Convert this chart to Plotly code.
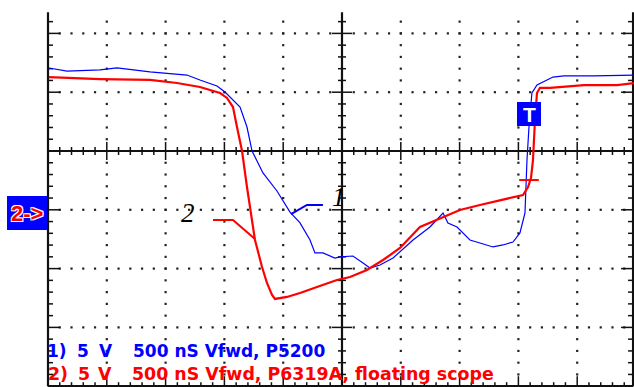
import plotly.graph_objects as go
import numpy as np

# ---------------- data (time in ns, voltage in V) ----------------
NS_PER_DIV = 500
V_PER_DIV = 5

blue_t = [8, 162, 442, 587, 867, 1182, 1292, 1437, 1505, 1573, 1633, 1692, 1735, 1828,
          1947, 2058, 2143, 2228, 2270, 2338, 2440, 2483, 2593, 2679, 2738, 2823, 2934,
          3104, 3248, 3359, 3401, 3478, 3588, 3673, 3784, 3869, 3954, 4013, 4056, 4073,
          4090, 4115, 4158, 4243, 4294, 4388, 4643, 4983]
blue_v = [7.06, 6.80, 6.89, 7.06, 6.72, 6.46, 6.04, 5.53, 5.02, 4.34, 3.74, 2.04, 0.0,
          -1.87, -3.40, -5.19, -6.12, -7.57, -8.67, -8.67, -9.10, -9.01, -8.93, -9.52,
          -9.95, -9.69, -9.10, -7.57, -6.46, -5.27, -6.12, -6.46, -7.57, -7.82, -8.16,
          -7.99, -7.74, -6.97, -5.27, -0.77, 2.04, 4.93, 5.61, 6.04, 6.29, 6.38, 6.38, 6.46]

red_t = [8, 442, 867, 1097, 1292, 1463, 1522, 1573, 1607, 1650, 1692, 1718, 1760, 1820,
         1862, 1905, 1930, 2032, 2143, 2287, 2457, 2568, 2712, 2849, 2993, 3163, 3359,
         3503, 3673, 3843, 4039, 4082, 4107, 4124, 4132, 4141, 4158, 4183, 4269, 4354,
         4558, 4838, 4983]
red_v = [6.29, 6.12, 6.04, 5.78, 5.44, 4.93, 4.51, 3.74, 2.04, 0.0, -3.06, -4.76, -7.57,
         -9.86, -11.22, -12.24, -12.58, -12.41, -12.07, -11.56, -10.97, -10.71, -10.12,
         -9.27, -8.25, -6.46, -5.61, -5.02, -4.59, -4.17, -3.74, -3.06, -2.30, -0.77,
         1.19, 2.64, 4.93, 5.36, 5.36, 5.44, 5.61, 5.61, 5.78]

red_mark_t = [4090]
red_mark_v = [-2.47]

leader1_t = [2066, 2202, 2338]
leader1_v = [-5.36, -4.59, -4.59]
leader2_t = [1403, 1573, 1760]
leader2_v = [-5.87, -5.87, -7.48]

label1_pos = (2474, -3.95)
label2_pos = (1190, -5.30)

legend1 = ["1)", "5", "V", "500 nS Vfwd, P5200"]
legend2 = ["2)", "5", "V", "500 nS Vfwd, P6319A, floating scope"]

# ---------------- geometry ----------------
W, H = 634, 387
PX_PER_DIV = 58.8
X0_PX, Y0_PX = 48, 151          # pixel of t=0 (left frame) and V=0 (centre line)
def dx(px):  # pixels -> ns
    return px / PX_PER_DIV * NS_PER_DIV
def dy(px):  # pixels -> V
    return px / PX_PER_DIV * V_PER_DIV

x_range = [-dx(X0_PX), dx(W - X0_PX)]
y_range = [-dy(H - Y0_PX), dy(Y0_PX)]

TOP = 2.36      # top of the visible frame, div
RIGHT = 9.95    # right frame, div

fig = go.Figure()

# grid dots
gx, gy = [], []
for k in range(1, 10):
    if k == 5:
        continue
    for j in np.arange(-19, 12):
        yv = j * 0.2
        if abs(yv) < 1e-9:
            continue
        gx.append(k * NS_PER_DIV); gy.append(yv * V_PER_DIV)
for r in [-3, -2, -1, 1, 2]:
    for i in range(1, 50):
        xv = i * 0.2
        if abs(xv - 5) < 1e-9:
            continue
        gx.append(xv * NS_PER_DIV); gy.append(r * V_PER_DIV)
fig.add_trace(go.Scatter(x=gx, y=gy, mode="markers",
                         marker=dict(symbol="square", size=2.2, color="#222", line=dict(width=0)),
                         hoverinfo="skip", showlegend=False))

# axes lines
ax_x, ax_y = [], []
def seg(x1, y1, x2, y2):
    ax_x.extend([x1, x2, None]); ax_y.extend([y1, y2, None])

seg(0, -4 * V_PER_DIV, 0, TOP * V_PER_DIV)                              # left frame
seg(RIGHT * NS_PER_DIV, -4 * V_PER_DIV, RIGHT * NS_PER_DIV, TOP * V_PER_DIV)  # right frame
seg(0, -4 * V_PER_DIV, RIGHT * NS_PER_DIV, -4 * V_PER_DIV)             # bottom
seg(0, 0, RIGHT * NS_PER_DIV, 0)                                         # centre horizontal
seg(5 * NS_PER_DIV, -4 * V_PER_DIV, 5 * NS_PER_DIV, TOP * V_PER_DIV)    # centre vertical

tk_x, tk_y = [], []
def tseg(x1, y1, x2, y2):
    tk_x.extend([x1, x2, None]); tk_y.extend([y1, y2, None])

for j in range(-20, 12):
    yv = j * 0.2
    major = abs(yv - round(yv)) < 1e-9
    yV = yv * V_PER_DIV
    L = 12 if major else 5
    tseg(0, yV, dx(L), yV)
    tseg(RIGHT * NS_PER_DIV, yV, RIGHT * NS_PER_DIV - dx(L), yV)
    c = 10 if major else 4
    if j != 0:
        tseg(5 * NS_PER_DIV - dx(c), yV, 5 * NS_PER_DIV + dx(c), yV)
for i in range(0, 50):
    xv = i * 0.2
    major = abs(xv - round(xv)) < 1e-9
    xN = xv * NS_PER_DIV
    c = 9 if major else 4
    if i != 25 and i != 0:
        tseg(xN, -dy(c), xN, dy(c))
    b = 10 if major else 4
    tseg(xN, -4 * V_PER_DIV, xN, -4 * V_PER_DIV + dy(b))

fig.add_trace(go.Scatter(x=tk_x, y=tk_y, mode="lines", line=dict(color="#111", width=1.5),
                         hoverinfo="skip", showlegend=False))
fig.add_trace(go.Scatter(x=ax_x, y=ax_y, mode="lines", line=dict(color="#111", width=2.2),
                         hoverinfo="skip", showlegend=False))

# traces
fig.add_trace(go.Scatter(x=blue_t, y=blue_v, mode="lines",
                         line=dict(color="#0000ff", width=1.2), showlegend=False))
fig.add_trace(go.Scatter(x=red_t, y=red_v, mode="lines",
                         line=dict(color="#ff0000", width=2.2), showlegend=False))
fig.add_trace(go.Scatter(x=red_mark_t, y=red_mark_v, mode="markers",
                         marker=dict(symbol="line-ew", size=14, line=dict(color="#ff0000", width=2)),
                         showlegend=False))

# leader lines
fig.add_trace(go.Scatter(x=leader1_t, y=leader1_v, mode="lines",
                         line=dict(color="#0000ff", width=2), showlegend=False))
fig.add_trace(go.Scatter(x=leader2_t, y=leader2_v, mode="lines",
                         line=dict(color="#ff0000", width=2), showlegend=False))

def px2paper(px, py):
    return px / W, 1 - py / H

shapes = []
for (x1, y1, x2, y2) in [(7, 196, 47, 230), (517, 102, 541, 126)]:
    a, b = px2paper(x1, y2); c, d = px2paper(x2, y1)
    shapes.append(dict(type="rect", xref="paper", yref="paper", x0=a, y0=b, x1=c, y1=d,
                       fillcolor="#0000ff", line=dict(width=0), layer="above"))

annotations = []
ax_, ay_ = px2paper(27, 213)
annotations.append(dict(x=ax_, y=ay_, xref="paper", yref="paper", text="2->", showarrow=False,
                        font=dict(family="Liberation Sans", size=22, color="#ff0000", weight="bold",
                                  shadow="1px 1px 0 #fff, -1px -1px 0 #fff, 1px -1px 0 #fff, -1px 1px 0 #fff"),
                        xanchor="center", yanchor="middle"))
tx_, ty_ = px2paper(529, 114)
annotations.append(dict(x=tx_, y=ty_, xref="paper", yref="paper", text="T", showarrow=False,
                        font=dict(family="Liberation Sans", size=21, color="#ffffff", weight="bold"),
                        xanchor="center", yanchor="middle"))
for txt, pos in [("1", label1_pos), ("2", label2_pos)]:
    annotations.append(dict(x=pos[0], y=pos[1], xref="x", yref="y", text=txt, showarrow=False,
                            font=dict(family="Liberation Serif", size=27, color="#000", style="italic"),
                            xanchor="center", yanchor="middle"))

xs1 = [45, 75, 97, 131]
xs2 = [46, 76, 96, 130]
for parts, xs, yc, col, sz in [(legend1, xs1, 351, "#0000ff", 17), (legend2, xs2, 374, "#ff0000", 17.4)]:
    for t, xp in zip(parts, xs):
        a, b = px2paper(xp, yc)
        annotations.append(dict(x=a, y=b, xref="paper", yref="paper", text=t, showarrow=False,
                                font=dict(family="DejaVu Sans", size=sz, color=col, weight="bold"),
                                xanchor="left", yanchor="middle"))

fig.update_layout(
    width=W, height=H,
    margin=dict(l=0, r=0, t=0, b=0),
    paper_bgcolor="white", plot_bgcolor="white",
    xaxis=dict(range=x_range, visible=False, fixedrange=True),
    yaxis=dict(range=y_range, visible=False, fixedrange=True),
    shapes=shapes, annotations=annotations, showlegend=False,
)

fig.write_html("out.html", config={"displayModeBar": False},
               post_script="document.body.style.margin='0';document.body.style.padding='0';document.body.style.overflow='hidden';")
